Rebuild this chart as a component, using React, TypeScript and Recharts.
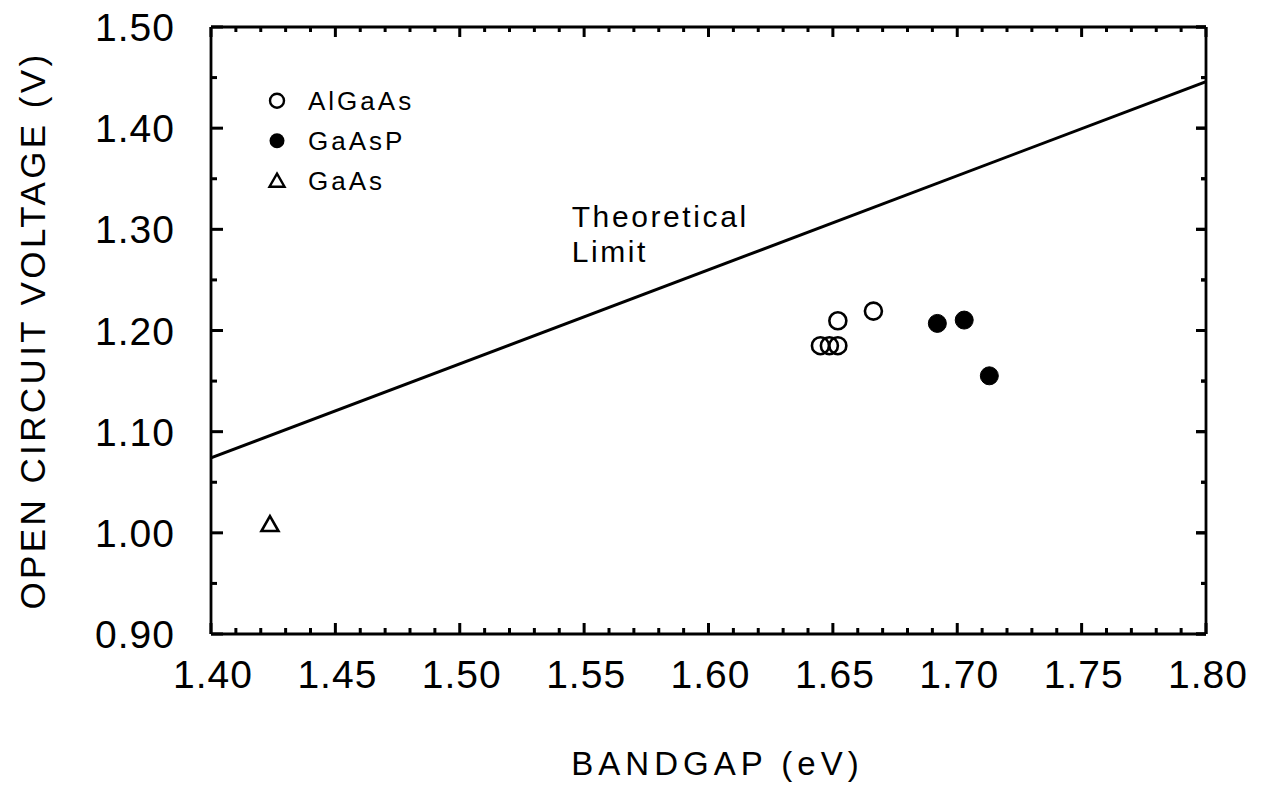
import React from 'react';
import { ScatterChart, Scatter, XAxis, YAxis, Legend, ReferenceDot, ReferenceLine } from 'recharts';

const FONT = '"Liberation Sans", Arial, sans-serif';

const xTicks = [
  1.40, 1.41, 1.42, 1.43, 1.44, 1.45, 1.46, 1.47, 1.48, 1.49,
  1.50, 1.51, 1.52, 1.53, 1.54, 1.55, 1.56, 1.57, 1.58, 1.59,
  1.60, 1.61, 1.62, 1.63, 1.64, 1.65, 1.66, 1.67, 1.68, 1.69,
  1.70, 1.71, 1.72, 1.73, 1.74, 1.75, 1.76, 1.77, 1.78, 1.79, 1.80,
];
const yTicks = [0.90, 0.95, 1.00, 1.05, 1.10, 1.15, 1.20, 1.25, 1.30, 1.35, 1.40, 1.45, 1.50];

const legendNames = ['AlGaAs', 'GaAsP', 'GaAs'];

const algaasX = [1.645, 1.6486, 1.652, 1.652, 1.6663];
const algaasY = [1.185, 1.185, 1.185, 1.2096, 1.2192];
const gaaspX = [1.692, 1.7028, 1.7129];
const gaaspY = [1.207, 1.2103, 1.1552];
const gaasX = [1.4237];
const gaasY = [1.0087];
const limitX = [1.40, 1.80];
const limitY = [1.074, 1.446];

const X_MIN = 1.4, X_MAX = 1.8, Y_MIN = 0.9, Y_MAX = 1.5;

const zip = (xs: number[], ys: number[]) => xs.map((x, i) => ({ x, y: ys[i] }));
const algaasData = zip(algaasX, algaasY);
const gaaspData = zip(gaaspX, gaaspY);
const gaasData = zip(gaasX, gaasY);
const limitData = zip(limitX, limitY);

const isMajorX = (v: number) => Math.round(v * 100) % 5 === 0;
const isMajorY = (v: number) => Math.round(v * 100) % 10 === 0;

const PX_X = (X_MAX - X_MIN) / 995;
const PX_Y = (Y_MAX - Y_MIN) / 607;

const BottomTick = (p: any) => {
  const v = p.payload.value;
  const x = Number(p.x);
  const y = Number(p.y);
  const major = isMajorX(v);
  return (
    <g>
      <rect x={x - 1.5} y={y - (major ? 11 : 6)} width={3} height={major ? 11 : 6} fill="#000" />
      {major && (
        <text x={x + 2} y={y + 54} textAnchor="middle" fontSize={39} fontFamily={FONT} fill="#000" letterSpacing={1}>
          {v.toFixed(2)}
        </text>
      )}
    </g>
  );
};
const LeftTick = (p: any) => {
  const v = p.payload.value;
  const x = Number(p.x);
  const y = Number(p.y);
  const major = isMajorY(v);
  return (
    <g>
      <rect x={x} y={y - 1.5} width={major ? 12 : 6} height={3} fill="#000" />
      {major && (
        <text x={x - 36} y={y + 14} textAnchor="end" fontSize={39} fontFamily={FONT} fill="#000" letterSpacing={1}>
          {v.toFixed(2)}
        </text>
      )}
    </g>
  );
};
const TopTick = (p: any) => {
  const v = p.payload.value;
  const x = Number(p.x);
  const y = Number(p.y);
  const major = isMajorX(v);
  return <rect x={x - 1.5} y={y} width={3} height={major ? 10 : 5} fill="#000" />;
};
const RightTick = (p: any) => {
  const v = p.payload.value;
  const x = Number(p.x);
  const y = Number(p.y);
  const major = isMajorY(v);
  const len = major ? 10 : 5;
  return <rect x={x - len} y={y - 1.5} width={len} height={3} fill="#000" />;
};

const OpenCircle = (p: any) => <circle cx={p.cx} cy={p.cy} r={8.5} fill="none" stroke="#000" strokeWidth={2.6} />;
const FilledCircle = (p: any) => <circle cx={p.cx} cy={p.cy} r={9} fill="#000" stroke="#000" strokeWidth={1} />;
const Triangle = (p: any) => (
  <path
    d={`M${p.cx},${p.cy - 8} L${p.cx + 8.5},${p.cy + 7} L${p.cx - 8.5},${p.cy + 7} Z`}
    fill="none"
    stroke="#000"
    strokeWidth={2.6}
  />
);
const NoShape = () => <g />;

const legendMarker = (name: string, cy: number) => {
  if (name === 'AlGaAs') return <circle cx={19} cy={cy} r={7} fill="none" stroke="#000" strokeWidth={2.4} />;
  if (name === 'GaAsP') return <circle cx={19} cy={cy} r={7.5} fill="#000" />;
  return <path d={`M19,${cy - 7} L26.5,${cy + 6} L11.5,${cy + 6} Z`} fill="none" stroke="#000" strokeWidth={2.4} />;
};

const LegendContent = () => (
  <svg width={200} height={125} style={{ display: 'block' }}>
    {legendNames.map((name, i) => (
      <g key={name}>
        {legendMarker(name, 20.7 + i * 40)}
        <text x={50} y={30 + i * 40} fontSize={26} fontFamily={FONT} fill="#000" letterSpacing={3}>
          {name}
        </text>
      </g>
    ))}
  </svg>
);

const XTitle = (props: any) => {
  const vb = props.viewBox;
  return (
    <text x={vb.x + vb.width / 2 + 9} y={767} textAnchor="middle" fontSize={33} fontFamily={FONT} fill="#000" letterSpacing={5}>
      BANDGAP (eV)
    </text>
  );
};
const YTitle = (props: any) => {
  const vb = props.viewBox;
  const cy = vb.y + vb.height / 2;
  const bx = 37;
  return (
    <text x={bx} y={cy} transform={`rotate(-90, ${bx}, ${cy})`} textAnchor="middle" fontSize={35} fontFamily={FONT} fill="#000" letterSpacing={3.4}>
      OPEN CIRCUIT VOLTAGE (V)
    </text>
  );
};

const LimitLabel = (props: any) => {
  const vb = props.viewBox;
  return (
    <g>
      <text x={vb.x} y={vb.y} fontSize={30} fontFamily={FONT} fill="#000" letterSpacing={2.6}>Theoretical</text>
      <text x={vb.x} y={vb.y + 35} fontSize={30} fontFamily={FONT} fill="#000" letterSpacing={2.6}>Limit</text>
    </g>
  );
};

export default function App() {
  const axisLine = { stroke: '#000', strokeWidth: 2.8 };
  return (
    <div style={{ width: 1251, height: 780, background: '#fff' }}>
      <ScatterChart width={1251} height={780} margin={{ top: 18, right: 52, bottom: 8, left: 0 }}>
        <XAxis
          type="number"
          dataKey="x"
          domain={[X_MIN, X_MAX]}
          ticks={xTicks}
          interval={0}
          tickSize={0}
          tickMargin={0}
          tickLine={false}
          axisLine={axisLine}
          tick={BottomTick}
          height={146}
          allowDataOverflow
          label={{ content: XTitle }}
        />
        <XAxis
          xAxisId="top"
          orientation="top"
          type="number"
          domain={[X_MIN, X_MAX]}
          ticks={xTicks}
          interval={0}
          tickSize={0}
          tickMargin={0}
          tickLine={false}
          axisLine={axisLine}
          tick={TopTick}
          height={1}
          allowDataOverflow
        />
        <YAxis
          type="number"
          dataKey="y"
          domain={[Y_MIN, Y_MAX]}
          ticks={yTicks}
          interval={0}
          tickSize={0}
          tickMargin={0}
          tickLine={false}
          axisLine={axisLine}
          tick={LeftTick}
          width={203}
          allowDataOverflow
          label={{ content: YTitle }}
        />
        <YAxis
          yAxisId="right"
          orientation="right"
          type="number"
          domain={[Y_MIN, Y_MAX]}
          ticks={yTicks}
          interval={0}
          tickSize={0}
          tickMargin={0}
          tickLine={false}
          axisLine={axisLine}
          tick={RightTick}
          width={1}
          allowDataOverflow
        />
        {xTicks.map((v) => (
          <ReferenceLine
            key={`t${v}`}
            segment={[{ x: v, y: Y_MAX }, { x: v, y: Y_MAX - (isMajorX(v) ? 10 : 5) * PX_Y }]}
            stroke="#000"
            strokeWidth={3}
            ifOverflow="visible"
          />
        ))}
        {yTicks.map((v) => (
          <ReferenceLine
            key={`r${v}`}
            segment={[{ x: X_MAX, y: v }, { x: X_MAX - (isMajorY(v) ? 10 : 5) * PX_X, y: v }]}
            stroke="#000"
            strokeWidth={3}
            ifOverflow="visible"
          />
        ))}
        <Legend
          layout="vertical"
          align="center"
          verticalAlign="middle"
          content={LegendContent}
          wrapperStyle={{ position: 'absolute', left: 250, top: 72, width: 200, height: 125 }}
        />
        <Scatter
          name="Theoretical Limit"
          data={limitData}
          line={{ stroke: '#000', strokeWidth: 3 }}
          shape={NoShape}
          legendType="none"
          isAnimationActive={false}
        />
        <Scatter name="AlGaAs" data={algaasData} shape={OpenCircle} isAnimationActive={false} />
        <Scatter name="GaAsP" data={gaaspData} shape={FilledCircle} isAnimationActive={false} />
        <Scatter name="GaAs" data={gaasData} shape={Triangle} isAnimationActive={false} />
        <ReferenceDot x={1.545} y={1.3025} r={0} fill="none" stroke="none" label={{ content: LimitLabel }} />
      </ScatterChart>
    </div>
  );
}
